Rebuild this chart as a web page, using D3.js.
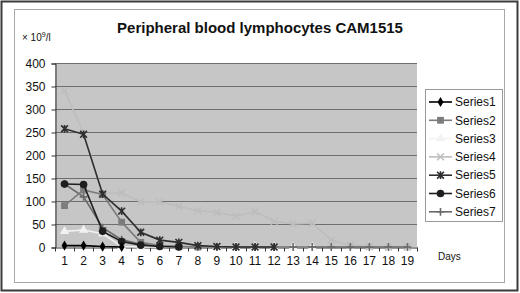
<!DOCTYPE html>
<html>
<head>
<meta charset="utf-8">
<script src="https://cdn.jsdelivr.net/npm/d3@7"></script>
<style>
  body { margin: 0; background: #fff; }
  text { font-family: Arial, "Liberation Sans", sans-serif; }
</style>
</head>
<body>
<div id="chart"></div>
<script>
// data
var days = d3.range(1, 20);
var yTicks = [0, 50, 100, 150, 200, 250, 300, 350, 400];
var seriesNames = ["Series1", "Series2", "Series3", "Series4", "Series5", "Series6", "Series7"];
var series1 = [3, 3, 1, 0];
var series2 = [90, 124, 114, 54, 10, 3, 1, 0];
var series3 = [34, 37, 29, 1, 0, 0, 0, 0, 0, 0, 0, 0, 0, 0];
var series4 = [340, 248, 116, 118, 98, 98, 88, 79, 75, 67, 77, 56, 50, 52, 15, 4, 1, 0, 0];
var series5 = [257, 245, 115, 78, 32, 15, 10, 3, 1, 0, 0, 0];
var series6 = [137, 136, 34, 12, 4, 1, 0];
var series7 = [137, 109, 42, 16, 6, 2, 1, 0, 0, 0, 0, 0, 0, 0, 0, 0, 0, 0, 0];

var allSeries = [series1, series2, series3, series4, series5, series6, series7];
var colors = ["#000000", "#7c7c7c", "#f2f2f2", "#bdbdbd", "#2e2e2e", "#1e1e1e", "#6a6a6a"];
var markers = ["diamond", "square", "triangle", "cross", "star", "circle", "plus"];

var W = 520, H = 293;
var svg = d3.select("#chart").append("svg")
    .attr("width", W)
    .attr("height", H);

// frames
svg.append("rect").attr("x", 1.5).attr("y", 1.5).attr("width", 516).attr("height", 289)
    .style("fill", "#fff").style("stroke", "#3a3a3a").style("stroke-width", 2);
svg.append("rect").attr("x", 14.5).attr("y", 9.5).attr("width", 490).attr("height", 273)
    .style("fill", "none").style("stroke", "#a8a8a8").style("stroke-width", 1);

var plot = {left: 55, top: 63, right: 417, bottom: 247};

var x = d3.scaleBand().domain(days).range([plot.left, plot.right]);
var y = d3.scaleLinear().domain([0, 400]).range([plot.bottom, plot.top]);

// plot background
svg.append("rect")
    .attr("x", plot.left).attr("y", plot.top)
    .attr("width", plot.right - plot.left).attr("height", plot.bottom - plot.top)
    .style("fill", "#c6c6c6");

// grid lines
svg.selectAll(".grid")
    .data(yTicks.slice(1))
    .enter().append("line")
    .attr("x1", plot.left).attr("x2", plot.right)
    .attr("y1", function(d) { return y(d) + 0.5; })
    .attr("y2", function(d) { return y(d) + 0.5; })
    .style("stroke", "#6e6e6e").style("stroke-width", 1);

// y axis
var yAxis = svg.append("g")
    .attr("transform", "translate(" + (plot.left + 0.5) + ",0.5)")
    .call(d3.axisLeft(y).tickValues(yTicks).tickSize(4).tickPadding(6));
yAxis.select(".domain").style("stroke", "#333");
yAxis.selectAll(".tick line").style("stroke", "#333");
yAxis.selectAll("text").style("font-size", "12px").style("fill", "#111")
    .attr("dy", "0.35em");

// x axis with ticks between categories
var xAxis = svg.append("g")
    .attr("transform", "translate(0," + (plot.bottom + 0.5) + ")")
    .call(d3.axisBottom(x).tickSize(0).tickPadding(9));
xAxis.select(".domain").style("stroke", "#333");
xAxis.selectAll("text").style("font-size", "12px").style("fill", "#111");
xAxis.selectAll(".sep")
    .data(days.concat([20]))
    .enter().append("line")
    .attr("x1", function(d) { return Math.round(plot.left + (d - 1) * x.step()) + 0.5; })
    .attr("x2", function(d) { return Math.round(plot.left + (d - 1) * x.step()) + 0.5; })
    .attr("y1", 0).attr("y2", 4)
    .style("stroke", "#333");

var line = d3.line()
    .x(function(d, i) { return x(days[i]) + x.bandwidth() / 2; })
    .y(function(d) { return y(d); });

function drawMarker(g, type, color, cx, cy) {
    var s = 3.4;
    if (type == "diamond") {
        g.append("path").attr("d", d3.symbol(d3.symbolDiamond, 30)())
            .attr("transform", "translate(" + cx + "," + cy + ")").style("fill", color);
    } else if (type == "square") {
        g.append("rect").attr("x", cx - s).attr("y", cy - s).attr("width", 2 * s).attr("height", 2 * s)
            .style("fill", color);
    } else if (type == "triangle") {
        g.append("path").attr("d", d3.symbol(d3.symbolTriangle, 38)())
            .attr("transform", "translate(" + cx + "," + cy + ")").style("fill", color);
    } else if (type == "circle") {
        g.append("circle").attr("cx", cx).attr("cy", cy).attr("r", 3.8).style("fill", color);
    } else {
        var p = "";
        if (type == "cross" || type == "star") {
            p += "M" + (cx - s) + "," + (cy - s) + "L" + (cx + s) + "," + (cy + s);
            p += "M" + (cx - s) + "," + (cy + s) + "L" + (cx + s) + "," + (cy - s);
        }
        if (type == "star" || type == "plus") {
            p += "M" + cx + "," + (cy - s - 0.5) + "L" + cx + "," + (cy + s + 0.5);
        }
        if (type == "plus") {
            p += "M" + (cx - s - 0.5) + "," + cy + "L" + (cx + s + 0.5) + "," + cy;
        }
        g.append("path").attr("d", p).style("stroke", color).style("stroke-width", 1.6).style("fill", "none");
    }
}

// series (drawn back to front so dark ones sit on top)
var order = [3, 2, 6, 1, 4, 5, 0];
order.forEach(function(k) {
    var vals = allSeries[k];
    var g = svg.append("g");
    g.append("path")
        .attr("d", line(vals))
        .style("fill", "none")
        .style("stroke", colors[k])
        .style("stroke-width", 1.6);
    vals.forEach(function(v, i) {
        drawMarker(g, markers[k], colors[k], x(days[i]) + x.bandwidth() / 2, y(v));
    });
});

// title
svg.append("text")
    .attr("x", 260).attr("y", 33)
    .attr("text-anchor", "middle")
    .style("font-size", "15px").style("font-weight", "bold").style("fill", "#111")
    .text("Peripheral blood lymphocytes CAM1515");

// unit label
var unit = svg.append("text").attr("x", 22).attr("y", 41)
    .style("font-size", "10px").style("fill", "#111");
unit.append("tspan").text("× 10");
unit.append("tspan").attr("dy", -4).style("font-size", "7px").text("9");
unit.append("tspan").attr("dy", 4).text("/l");

// x axis name
svg.append("text")
    .attr("x", 438).attr("y", 260)
    .style("font-size", "10px").style("fill", "#111")
    .text("Days");

// legend
var legend = svg.append("g");
legend.append("rect")
    .attr("x", 425.5).attr("y", 89.5).attr("width", 77).attr("height", 132)
    .style("fill", "#fff").style("stroke", "#9a9a9a");
seriesNames.forEach(function(name, i) {
    var ly = 102 + i * 18.3;
    legend.append("line")
        .attr("x1", 429).attr("x2", 452).attr("y1", ly).attr("y2", ly)
        .style("stroke", colors[i]).style("stroke-width", 1.6);
    drawMarker(legend, markers[i], colors[i], 440.5, ly);
    legend.append("text")
        .attr("x", 455).attr("y", ly).attr("dy", "0.35em")
        .style("font-size", "12px").style("fill", "#111")
        .text(name);
});
</script>
</body>
</html>
